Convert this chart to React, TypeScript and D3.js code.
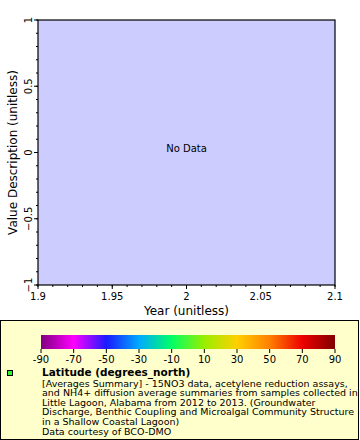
import React from 'react';
import * as d3 from 'd3';

const X_DOMAIN = [1.9, 2.1];
const Y_DOMAIN = [-1, 1];
const X_TICKS = [1.9, 1.95, 2, 2.05, 2.1];
const Y_TICKS = [-1, -0.5, 0, 0.5, 1];
const COLOR_TICKS = [-90, -70, -50, -30, -10, 10, 30, 50, 70, 90];
const COLOR_STOPS = ['#800080', '#ff00ff', '#1a1aff', '#00aaff', '#00ff66', '#99ee00', '#ffd000', '#ff8000', '#ee0000', '#800000'];
const LEGEND_TITLE = 'Latitude (degrees_north)';
const LEGEND_LINES = [
  '[Averages Summary] - 15NO3 data, acetylene reduction assays,',
  'and NH4+ diffusion average summaries from samples collected in',
  'Little Lagoon, Alabama from 2012 to 2013. (Groundwater',
  'Discharge, Benthic Coupling and Microalgal Community Structure',
  'in a Shallow Coastal Lagoon)',
  'Data courtesy of BCO-DMO',
];

const W = 360;
const H = 440;
const PLOT = { left: 38, top: 20, right: 335, bottom: 285 };
const FONT = 'DejaVu Sans, sans-serif';

const fmt = (v: number) => d3.format('~g')(v);

export default function App() {
  const x = d3.scaleLinear().domain(X_DOMAIN).range([PLOT.left, PLOT.right]);
  const y = d3.scaleLinear().domain(Y_DOMAIN).range([PLOT.bottom, PLOT.top]);
  const xMinor = d3.range(0, 21).map((i) => 1.9 + i * 0.01);
  const yMinor = d3.range(0, 21).map((i) => -1 + i * 0.1);

  // colorbar scale
  const c = d3.scaleLinear().domain([-90, 90]).range([41, 335]);
  const stopScale = d3.scaleLinear().domain([0, COLOR_STOPS.length - 1]).range([0, 100]);

  return (
    <svg width={W} height={H} style={{ position: 'absolute', left: 0, top: 0 }} fontFamily={FONT}>
      <defs>
        <linearGradient id="rainbow" x1="0" x2="1" y1="0" y2="0">
          {COLOR_STOPS.map((col, i) => (
            <stop key={i} offset={stopScale(i) + '%'} stopColor={col} />
          ))}
        </linearGradient>
        <clipPath id="legClip">
          <rect x={0} y={320} width={359} height={120} />
        </clipPath>
      </defs>
      <rect x={0} y={0} width={W} height={H} fill="#fff" />

      {/* plot area */}
      <rect x={PLOT.left} y={PLOT.top} width={PLOT.right - PLOT.left} height={PLOT.bottom - PLOT.top}
        fill="#ccccff" stroke="#000" strokeWidth={1.2} />
      <text x={x(2)} y={y(0) - 1} fontSize={10} textAnchor="middle">No Data</text>

      {/* x axis */}
      {xMinor.map((v, i) => (
        <line key={'xm' + i} x1={x(v)} x2={x(v)} y1={PLOT.bottom} y2={PLOT.bottom + 2} stroke="#000" />
      ))}
      {X_TICKS.map((v) => (
        <g key={'x' + v}>
          <line x1={x(v)} x2={x(v)} y1={PLOT.bottom} y2={PLOT.bottom + 4} stroke="#000" />
          <text x={x(v)} y={PLOT.bottom + 15} fontSize={10} textAnchor="middle">{fmt(v)}</text>
        </g>
      ))}
      <text x={(PLOT.left + PLOT.right) / 2} y={315} fontSize={12} textAnchor="middle">Year (unitless)</text>

      {/* y axis */}
      {yMinor.map((v, i) => (
        <line key={'ym' + i} x1={PLOT.left - 2} x2={PLOT.left} y1={y(v)} y2={y(v)} stroke="#000" />
      ))}
      {Y_TICKS.map((v) => (
        <g key={'y' + v}>
          <line x1={PLOT.left - 4} x2={PLOT.left} y1={y(v)} y2={y(v)} stroke="#000" />
          <text transform={`translate(${PLOT.left - 6},${y(v)}) rotate(-90)`} fontSize={10} textAnchor="middle">{fmt(v)}</text>
        </g>
      ))}
      <text transform={`translate(17,${(PLOT.top + PLOT.bottom) / 2}) rotate(-90)`} fontSize={12} textAnchor="middle">
        Value Description (unitless)
      </text>

      {/* legend */}
      <rect x={0.5} y={320.5} width={358} height={119} fill="#ffffcc" stroke="#000" />
      <rect x={c(-90)} y={335} width={c(90) - c(-90)} height={14} fill="url(#rainbow)" />
      {COLOR_TICKS.map((v) => (
        <g key={'c' + v}>
          <line x1={c(v)} x2={c(v)} y1={349} y2={353} stroke="#000" />
          <text x={c(v)} y={363} fontSize={10} textAnchor="middle">{v}</text>
        </g>
      ))}
      <rect x={7.5} y={370.5} width={5} height={5} fill="#33ee33" stroke="#000" />
      <g clipPath="url(#legClip)">
        <text x={42} y={376} fontSize={10.5} fontWeight="bold">{LEGEND_TITLE}</text>
        {LEGEND_LINES.map((line, i) => (
          <text key={i} x={42} y={386.5 + i * 9.6} fontSize={9.5}>{line}</text>
        ))}
      </g>
    </svg>
  );
}
